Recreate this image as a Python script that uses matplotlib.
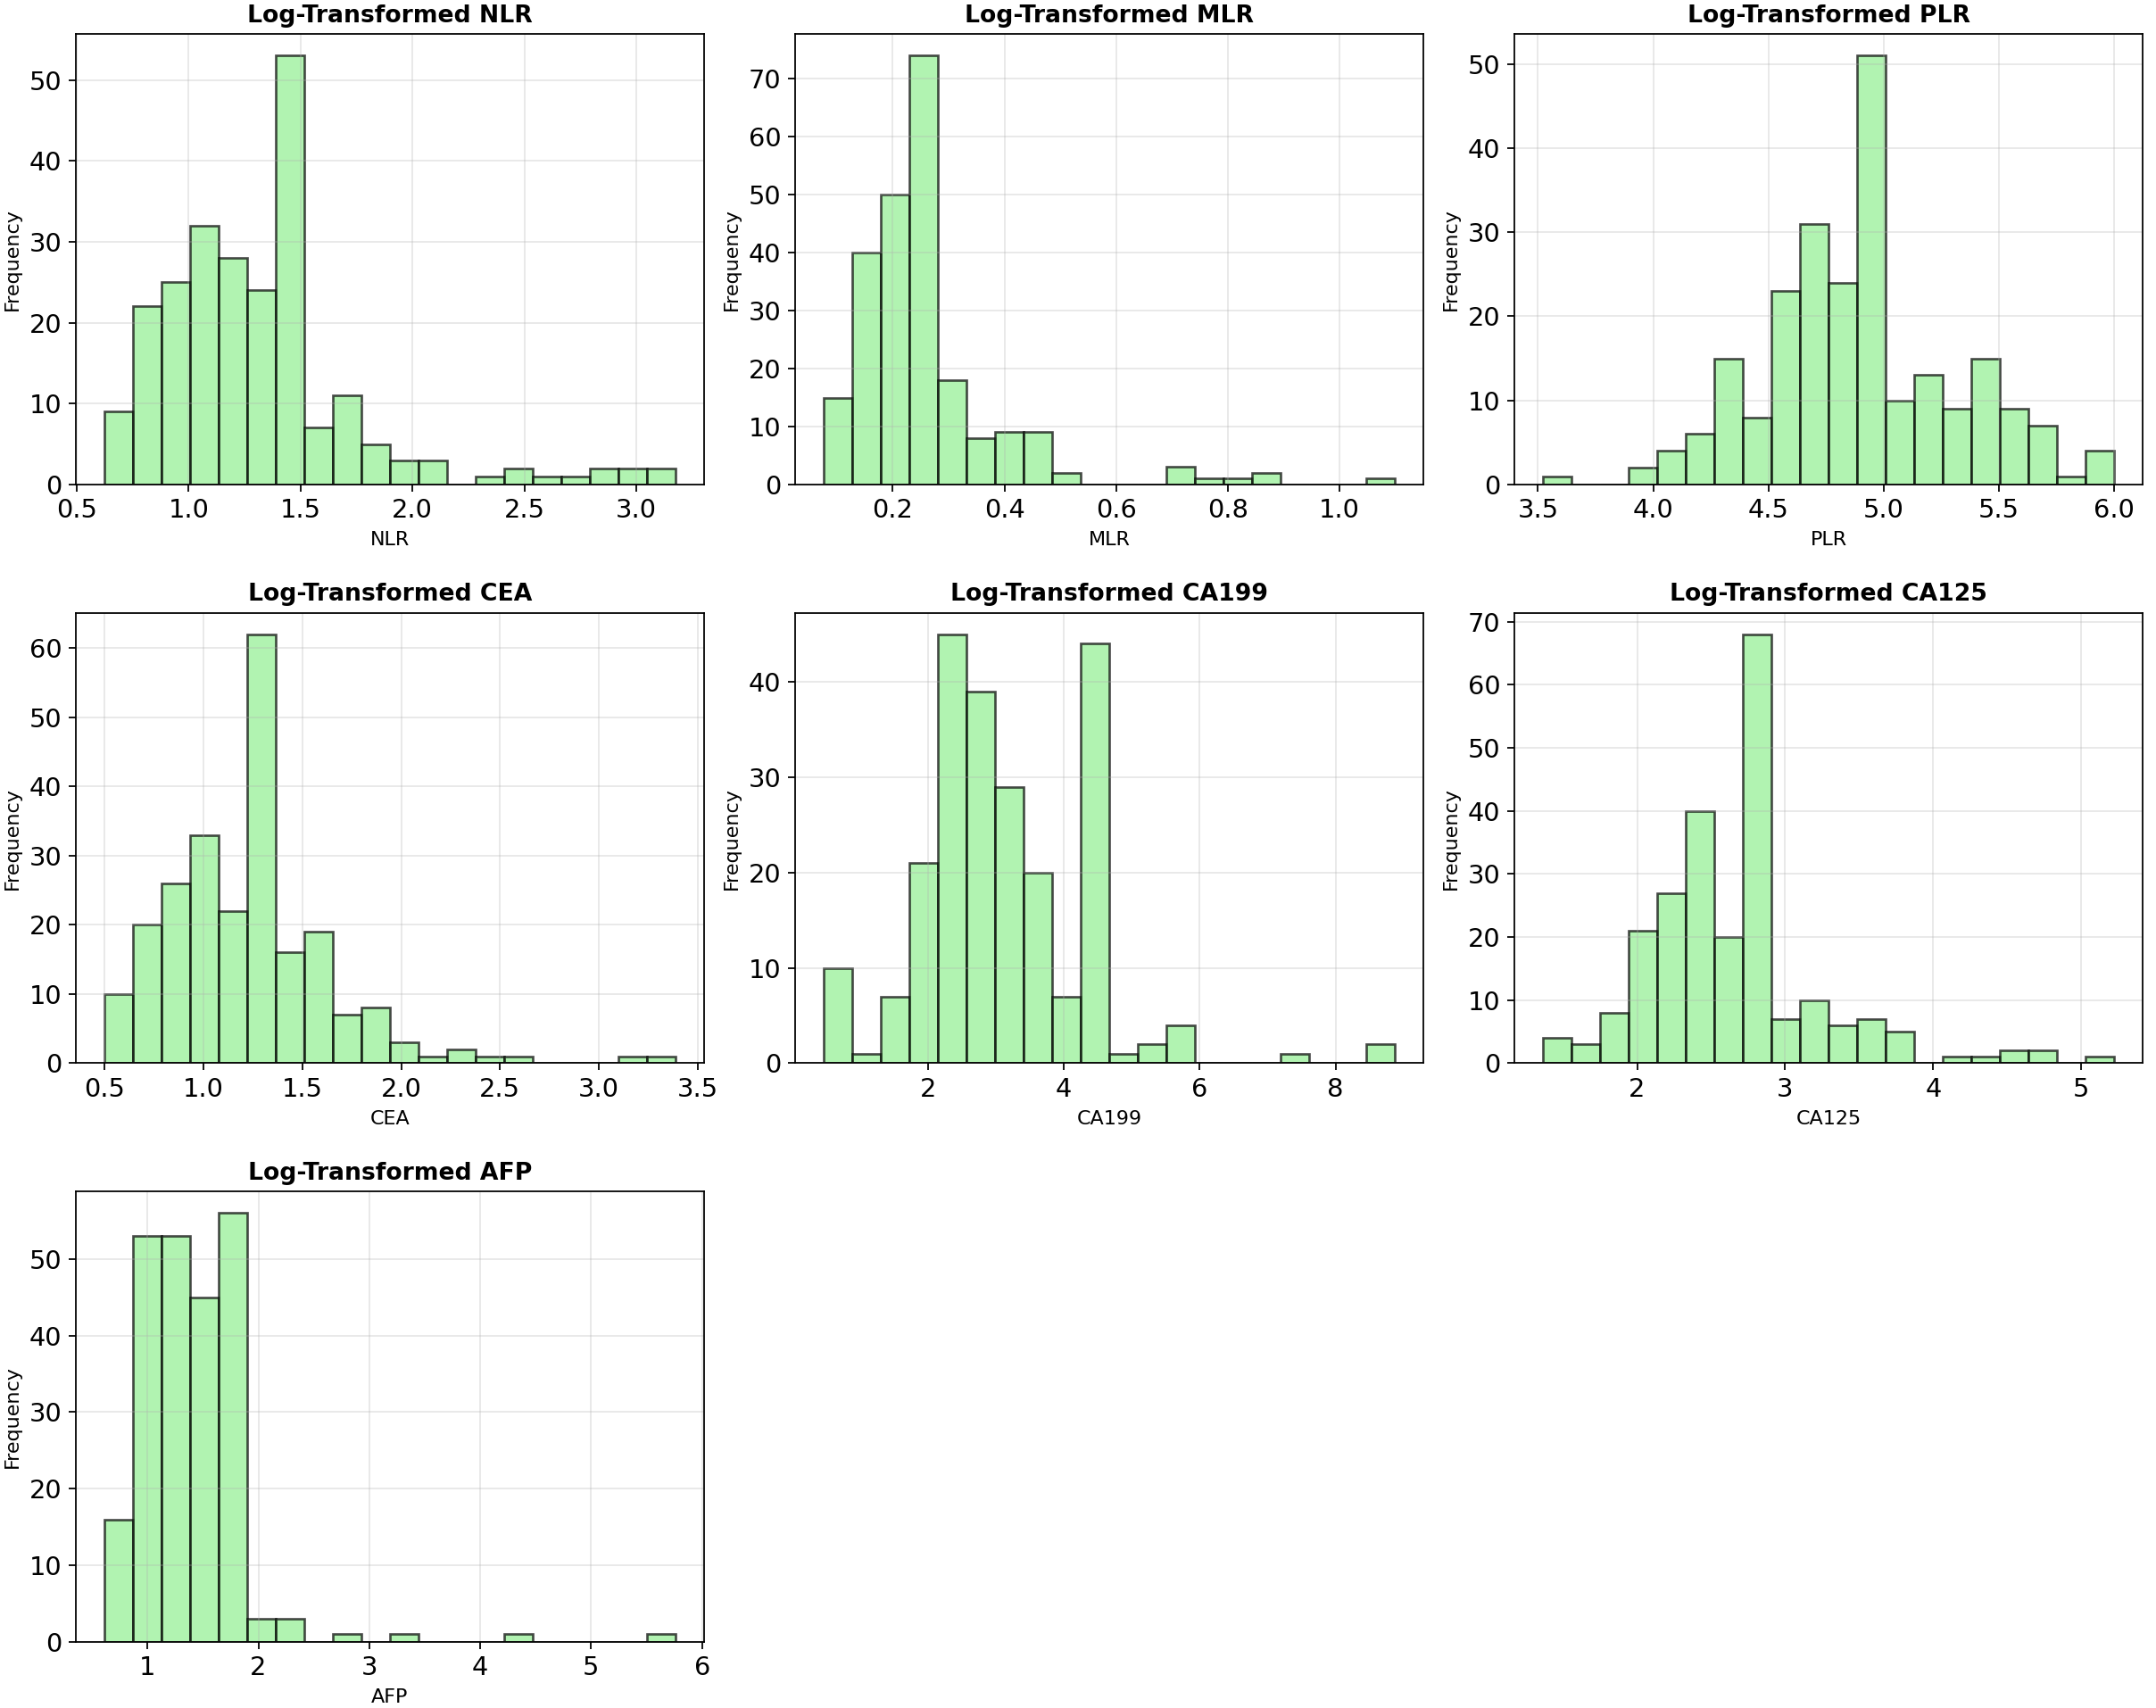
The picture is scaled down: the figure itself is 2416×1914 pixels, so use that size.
import numpy as np
import matplotlib
matplotlib.use("Agg")
import matplotlib.pyplot as plt

# Variables (panel order)
variables = ["NLR", "MLR", "PLR", "CEA", "CA199", "CA125", "AFP"]

# Data range (min, max) of each log-transformed variable
nlr_range = (0.624, 3.175)
mlr_range = (0.0764, 1.099)
plr_range = (3.522, 6.000)
cea_range = (0.500, 3.387)
ca199_range = (0.466, 8.871)
ca125_range = (1.3645, 5.221)
afp_range = (0.612, 5.761)

# Bin counts (20 bins each)
nlr_counts = [9, 22, 25, 32, 28, 24, 53, 7, 11, 5, 3, 3, 0, 1, 2, 1, 1, 2, 2, 2]
mlr_counts = [15, 40, 50, 74, 18, 8, 9, 9, 2, 0, 0, 0, 3, 1, 1, 2, 0, 0, 0, 1]
plr_counts = [1, 0, 0, 2, 4, 6, 15, 8, 23, 31, 24, 51, 10, 13, 9, 15, 9, 7, 1, 4]
cea_counts = [10, 20, 26, 33, 22, 62, 16, 19, 7, 8, 3, 1, 2, 1, 1, 0, 0, 0, 1, 1]
ca199_counts = [10, 1, 7, 21, 45, 39, 29, 20, 7, 44, 1, 2, 4, 0, 0, 0, 1, 0, 0, 2]
ca125_counts = [4, 3, 8, 21, 27, 40, 20, 68, 7, 10, 6, 7, 5, 0, 1, 1, 2, 2, 0, 1]
afp_counts = [16, 53, 53, 45, 56, 3, 3, 0, 1, 0, 1, 0, 0, 0, 1, 0, 0, 0, 0, 1]

ranges = [nlr_range, mlr_range, plr_range, cea_range, ca199_range, ca125_range, afp_range]
counts = [nlr_counts, mlr_counts, plr_counts, cea_counts, ca199_counts, ca125_counts, afp_counts]

fig, axes = plt.subplots(3, 3, figsize=(15.1, 11.9625), dpi=160)
fig.subplots_adjust(left=0.0352, right=0.9938, bottom=0.0387, top=0.980,
                    wspace=0.145, hspace=0.285)

for ax, name, rng, cnt in zip(axes.flat, variables, ranges, counts):
    nb = len(cnt)
    edges = np.linspace(rng[0], rng[1], nb + 1)
    centers = (edges[:-1] + edges[1:]) / 2
    ax.hist(centers, bins=edges, weights=cnt, color="lightgreen",
            edgecolor="black", alpha=0.7, linewidth=1.2)
    ax.set_title(f"Log-Transformed {name}", fontsize=12, fontweight="bold")
    ax.set_xlabel(name, fontsize=10)
    ax.set_ylabel("Frequency", fontsize=10)
    ax.tick_params(axis="both", labelsize=13)
    ax.grid(True, alpha=0.3)

for ax in list(axes.flat)[len(variables):]:
    ax.set_visible(False)

fig.savefig("out.png", dpi=160)
